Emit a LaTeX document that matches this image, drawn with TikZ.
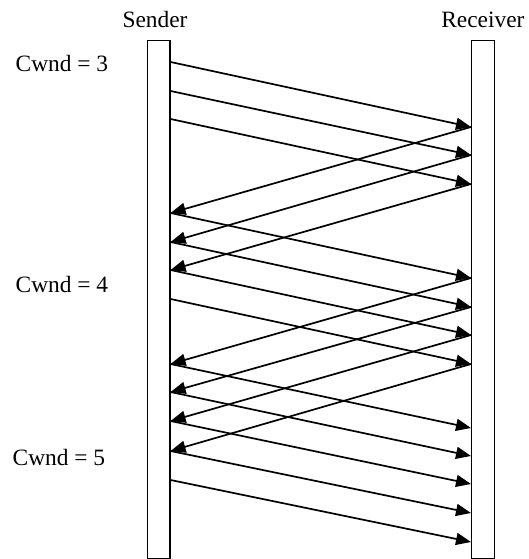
\documentclass[tikz,border=0pt]{standalone}
\usepackage{fontspec}
\setmainfont{Liberation Serif}
\usetikzlibrary{arrows.meta}
\tikzset{every picture/.style={line width=1.3pt}}

\begin{document}
\begin{tikzpicture}[x=1pt, y=-1pt, >={Triangle[length=15pt,width=12pt]},
        every node/.style={font=\fontsize{23.4}{28}\selectfont, inner sep=0pt},
        bar/.style={draw, fill=white, minimum width=22.5pt, minimum height=517.5pt},
        msg/.style={->, line width=1.7pt}]
    \useasboundingbox (0,0) rectangle (528,559);
    % the two hosts
    \node[bar] (sender) at (158.7,299.4) {};
    \node[bar] (receiver) at (482.9,299.4) {};
    \node[anchor=base] (sendername) at (155,28) {Sender};
    \node[anchor=base] (receivername) at (482.9,28) {Receiver};
    % window sizes
    \node[anchor=base west] (cwnd3) at (15,72) {Cwnd = 3};
    \node[anchor=base west] (cwnd4) at (15,292) {Cwnd = 4};
    \node[anchor=base west] (cwnd5) at (12,465) {Cwnd = 5};
    % first window
    \foreach \ya/\yb in {62/127, 91/155, 119/184}
        \draw[msg] (sender.east |- 0,\ya) -- (receiver.west |- 0,\yb);
    \foreach \ya/\yb in {127/213, 155/242, 184/270}
        \draw[msg] (receiver.west |- 0,\ya) -- (sender.east |- 0,\yb);
    % second window
    \foreach \ya/\yb in {213/278, 242/307, 270/335, 299/364}
        \draw[msg] (sender.east |- 0,\ya) -- (receiver.west |- 0,\yb);
    \foreach \ya/\yb in {278/364, 307/392, 335/421, 364/451}
        \draw[msg] (receiver.west |- 0,\ya) -- (sender.east |- 0,\yb);
    % third window
    \foreach \ya/\yb in {364/428, 392/456, 421/484, 451/513, 480/542}
        \draw[msg] (sender.east |- 0,\ya) -- (receiver.west |- 0,\yb);
\end{tikzpicture}
\end{document}
